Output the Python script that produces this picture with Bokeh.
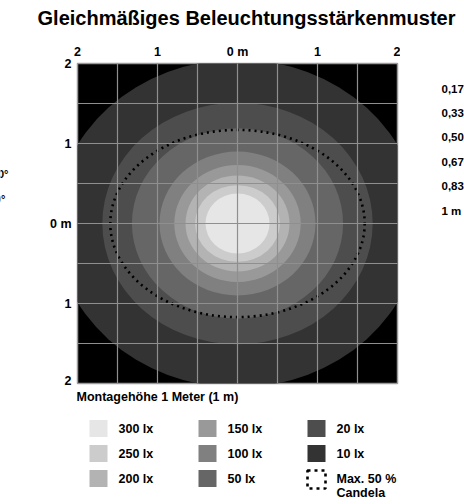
from bokeh.plotting import figure
from bokeh.models import Range1d, FixedTicker
from bokeh.layouts import column, row
from bokeh.embed import file_html
from bokeh.resources import INLINE
from bokeh.core.properties import value

FONT = "Liberation Sans"

title_text = "Gleichmäßiges Beleuchtungsstärkenmuster"
levels = ["300 lx", "250 lx", "200 lx", "150 lx", "100 lx", "50 lx", "20 lx", "10 lx"]
colors = ["#e6e6e6", "#cccccc", "#b3b3b3", "#999999", "#808080", "#666666", "#4d4d4d", "#333333"]
half_w = [0.40, 0.53, 0.65, 0.79, 0.975, 1.32, 1.69, 2.28]   # metres
half_h = [0.375, 0.48, 0.60, 0.73, 0.90, 1.19, 1.51, 2.05]   # metres
max50_half_w = 1.59
max50_half_h = 1.17
axis_ticks = [-2, -1, 0, 1, 2]
axis_labels = ["2", "1", "0 m", "1", "2"]
grid_ticks = [-1.5, -1, -0.5, 0, 0.5, 1, 1.5]
side_labels = ["0,17", "0,33", "0,50", "0,67", "0,83", "1 m"]
angle_labels = ["120°", "60°"]
mount_text = "Montagehöhe 1 Meter (1 m)"
max_text = ["Max. 50 %", "Candela"]


def blank(w, h, x0, x1, y_top, y_bot):
    f = figure(width=w, height=h, x_range=Range1d(x0, x1), y_range=Range1d(y_bot, y_top),
               output_backend="svg", toolbar_location=None,
               min_border_left=0, min_border_right=0, min_border_top=0, min_border_bottom=0,
               outline_line_color=None, background_fill_color="white", border_fill_color="white")
    f.axis.visible = False
    f.grid.visible = False
    f.frame_align = False
    return f


def txt(f, x, y, t, size="12.5px", align="left"):
    f.text(x=x, y=y, text=t, text_font=value(FONT), text_font_style="bold",
           text_font_size=size, text_align=align, text_baseline="middle", text_color="black")


# title strip (page pixel coordinates)
T = blank(464, 36, 0, 464, 0, 36)
txt(T, [246], [17], [title_text], size="20px", align="center")

# left strip (page pixel coordinates)
L0 = blank(20, 351, 0, 20, 36, 387)
txt(L0, [8, 5], [173, 198], angle_labels, size="11px", align="right")

# main chart
p = figure(width=380, height=351, x_range=Range1d(-2, 2), y_range=Range1d(-2, 2),
           x_axis_location="above", output_backend="svg", toolbar_location=None,
           min_border_left=57, min_border_right=3, min_border_top=27, min_border_bottom=4,
           background_fill_color="black", border_fill_color="white",
           outline_line_color="#9a9a9a", outline_line_width=1.5)
p.frame_align = False

n = len(levels)
order = list(range(n))[::-1]
p.ellipse(x=[0] * n, y=[0] * n,
          width=[2 * half_w[i] for i in order], height=[2 * half_h[i] for i in order],
          fill_color=[colors[i] for i in order], line_color=None)

p.ellipse(x=[0], y=[0], width=[2 * max50_half_w], height=[2 * max50_half_h],
          fill_color=None, line_color="black", line_width=2.6, line_dash="2 4")

for g in (p.xgrid, p.ygrid):
    g.ticker = FixedTicker(ticks=grid_ticks)
    g.grid_line_color = "#8f8f8f"
    g.grid_line_width = 1.2
    g.level = "overlay"

overrides = {t: l for t, l in zip(axis_ticks, axis_labels)}
for ax in (p.xaxis, p.yaxis):
    ax.ticker = FixedTicker(ticks=axis_ticks)
    ax.major_label_overrides = overrides
    ax.axis_line_color = None
    ax.major_tick_line_color = None
    ax.minor_tick_line_color = None
    ax.major_tick_out = 0
    ax.major_tick_in = 0
    ax.major_label_text_font = FONT
    ax.major_label_text_font_style = "bold"
    ax.major_label_text_font_size = "12.5px"
    ax.major_label_text_color = "black"
p.xaxis.major_label_standoff = 5
p.yaxis.major_label_standoff = 6

# right strip with the height-scale labels (page pixel coordinates)
S = blank(64, 351, 400, 464, 36, 387)
txt(S, [441] * len(side_labels), [88 + 24.4 * i for i in range(len(side_labels))],
    side_labels, size="11.5px")

# legend strip (page pixel coordinates)
lg = blank(464, 117, 0, 464, 387, 504)
txt(lg, [76], [396], [mount_text])

cols = [i // 3 for i in range(n)]
rows = [i % 3 for i in range(n)]
sw_x = [98 + 109 * c for c in cols]
sw_y = [428 + 25 * r for r in rows]
lg.rect(x=sw_x, y=sw_y, width=18, height=17, fill_color=colors, line_color=None)
txt(lg, [118 + 109 * c for c in cols], sw_y, levels)

lg.rect(x=[316], y=[479], width=18, height=18, fill_color=None, line_color="black",
        line_width=2.6, line_dash="3 4")
txt(lg, [336, 336], [478, 492], max_text)

layout = column(T, row(L0, p, S, spacing=0), lg, spacing=0)
open("out.html", "w").write(file_html(layout, INLINE))
